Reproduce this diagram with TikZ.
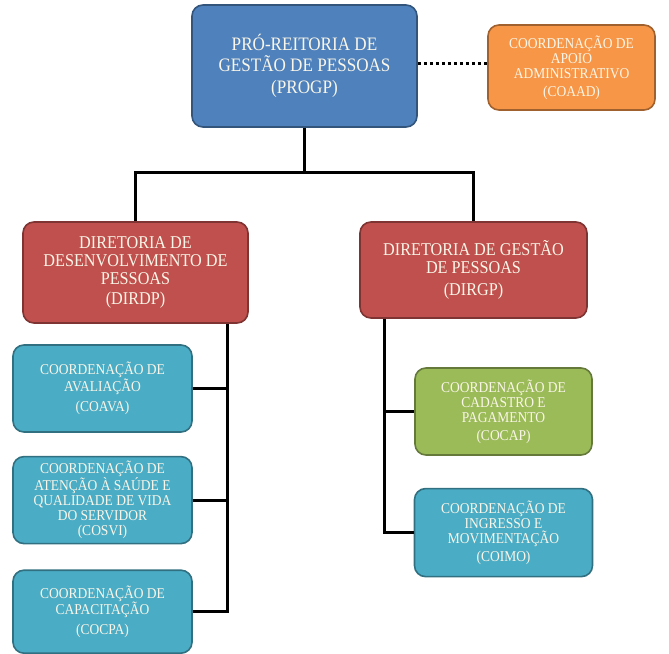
\documentclass[tikz,border=0pt]{standalone}
\usepackage{fontspec}
\setmainfont{Liberation Serif}[FakeStretch=0.9]
\usetikzlibrary{positioning,calc}

\definecolor{progpblue}{RGB}{79,129,189}
\definecolor{coaadorange}{RGB}{247,150,70}
\definecolor{dirred}{RGB}{192,80,77}
\definecolor{coteal}{RGB}{75,172,198}
\definecolor{cogreen}{RGB}{155,187,89}
\definecolor{boxtext}{RGB}{250,246,232}

\begin{document}
\begin{tikzpicture}[
  x=1pt, y=-1pt,
  node distance=24pt,
  blk/.style={draw=#1!65!black,fill=#1,line width=1.6pt,rounded corners=11pt,
    align=center,text=boxtext,inner sep=2pt},
  big/.style={font=\fontsize{19}{20.5}\selectfont},
  mid/.style={font=\fontsize{18}{18}\selectfont},
  small/.style={font=\fontsize{15}{15}\selectfont},
  link/.style={line width=3pt}
]
\useasboundingbox (0,0) rectangle (669,653);

% Top level
\node[blk=progpblue, big, minimum width=225pt, minimum height=122pt] (progp) at (304.5,66)
  {PRÓ-REITORIA DE\\GESTÃO DE PESSOAS\\[2pt](PROGP)};
\node[blk=coaadorange, small, minimum width=167pt, minimum height=85pt] (coaad) at (571.5,67.5)
  {COORDENAÇÃO DE\\APOIO\\ADMINISTRATIVO\\[3pt](COAAD)};

% Directorates
\node[blk=dirred, mid, minimum width=225pt, minimum height=101pt] (dirdp) at (135.5,272.5)
  {DIRETORIA DE\\DESENVOLVIMENTO DE\\PESSOAS\\[2pt](DIRDP)};
\node[blk=dirred, mid, minimum width=227pt, minimum height=96pt] (dirgp) at (473.5,270)
  {DIRETORIA DE GESTÃO\\DE PESSOAS\\[4pt](DIRGP)};

% Left column
\node[blk=coteal, small, minimum width=179pt, minimum height=87pt] (coava) at (102.5,388.5)
  {COORDENAÇÃO DE\\AVALIAÇÃO\\[5pt](COAVA)};
\node[blk=coteal, small, minimum width=179pt, minimum height=87pt, below=23pt of coava] (cosvi)
  {COORDENAÇÃO DE\\ATENÇÃO À SAÚDE E\\QUALIDADE DE VIDA\\DO SERVIDOR\\(COSVI)};
\node[blk=coteal, small, minimum width=179pt, minimum height=83pt, below=25pt of cosvi] (cocpa)
  {COORDENAÇÃO DE\\CAPACITAÇÃO\\[5pt](COCPA)};

% Right column
\node[blk=cogreen, small, minimum width=177pt, minimum height=87pt] (cocap) at (503.5,411.5)
  {COORDENAÇÃO DE\\CADASTRO E\\PAGAMENTO\\[3pt](COCAP)};
\node[blk=coteal, small, minimum width=178pt, minimum height=88pt, below=32pt of cocap] (coimo)
  {COORDENAÇÃO DE\\INGRESSO E\\MOVIMENTAÇÃO\\[3pt](COIMO)};

% Spines
\coordinate (lspine) at ($(dirdp.south east)+(-21,0)$);
\coordinate (rspine) at ($(dirgp.south west)+(25,0)$);

% Connections
\draw[link,dash pattern=on 3pt off 3pt] ($(progp.east)+(0,-3)$) -- ($(progp.east -| coaad.west)+(0,-3)$);
\draw[link] (progp.south) -- ++(0,45) -| (dirdp.north);
\draw[link] (progp.south) -- ++(0,45) -| (dirgp.north);
\draw[link] (lspine) |- (cocpa.east);
\draw[link] (coava.east) -- (coava.east -| lspine);
\draw[link] (cosvi.east) -- (cosvi.east -| lspine);
\draw[link] (rspine) |- (coimo.west);
\draw[link] (cocap.west) -- (cocap.west -| rspine);
\end{tikzpicture}
\end{document}
